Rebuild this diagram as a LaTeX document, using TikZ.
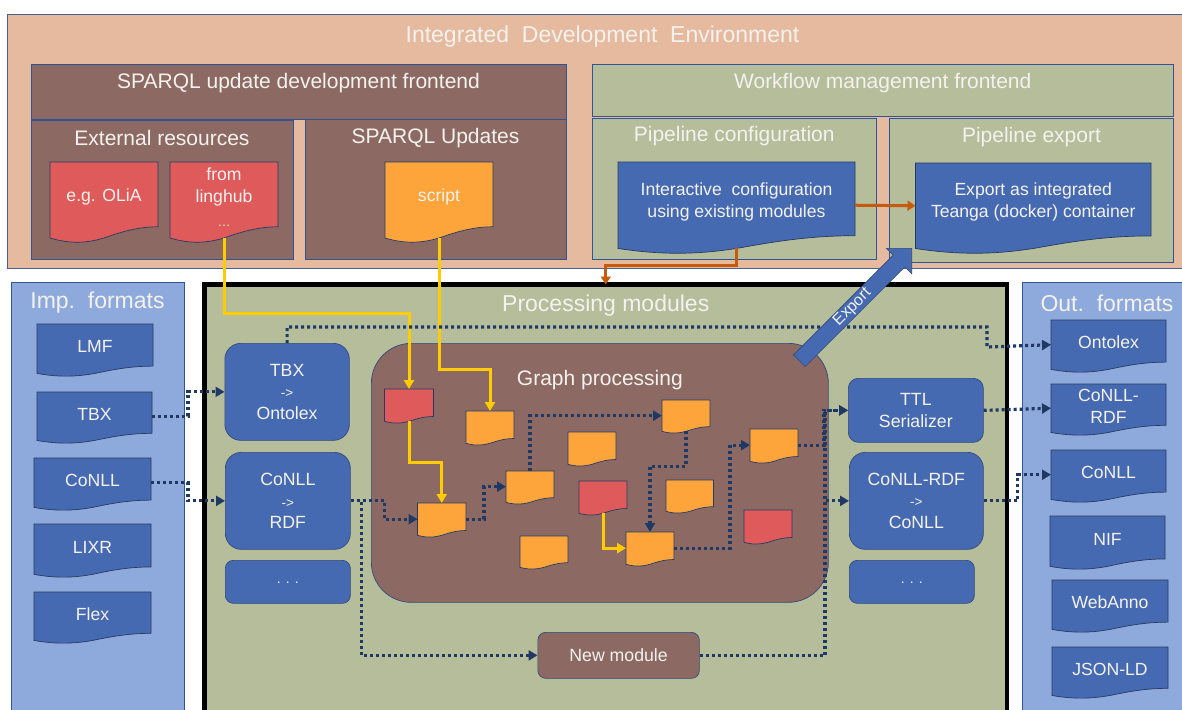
\documentclass[tikz,border=0pt]{standalone}
\usepackage{fontspec}
\setmainfont{Liberation Sans}
\usetikzlibrary{arrows.meta,shapes.arrows}
\definecolor{peach}{HTML}{E6BA9F}
\definecolor{olive}{HTML}{B6BD9B}
\definecolor{umber}{HTML}{8C6A63}
\definecolor{docblue}{HTML}{466AB1}
\definecolor{skyblue}{HTML}{8EA9DB}
\definecolor{docorange}{HTML}{FDA43B}
\definecolor{docred}{HTML}{DF5A5A}
\definecolor{edgeblue}{HTML}{2F5597}
\definecolor{navyline}{HTML}{1F3864}
\definecolor{goldline}{HTML}{FFCC00}
\definecolor{rustline}{HTML}{C55A11}
\definecolor{paper}{HTML}{F4F2EE}
\tikzset{
  panel/.style={anchor=north west,inner sep=0pt,outer sep=0pt,draw=edgeblue,line width=.8pt},
  headtext/.style={text=paper,anchor=center,inner sep=0pt,font=\fontsize{21}{25}\selectfont},
  doctext/.style={text=paper,anchor=center,inner sep=0pt,align=center,font=\fontsize{17.6}{22}\selectfont},
  docline/.style={draw=black!45!docblue,line width=.7pt},
  module/.style={anchor=north west,inner sep=0pt,draw=black!30!docblue,line width=.7pt,fill=docblue,
    text=paper,align=center,font=\fontsize{17.7}{21.5}\selectfont},
  yellowflow/.style={draw=goldline,line width=3pt,-{Triangle[length=9pt,width=10pt]}},
  rustflow/.style={draw=rustline,line width=3pt,-{Triangle[length=8pt,width=10pt]}},
  dotflow/.style={draw=navyline,line width=3.2pt,dash pattern=on 3pt off 3pt,-{Triangle[length=9pt,width=10pt]}},
}
\newcommand{\bigtitle}{\fontsize{23}{27}\selectfont}
\newcommand{\arrowsign}{{\fontsize{13.5}{15}\selectfont -{}>}}
\newcommand{\moredots}{\raisebox{-4pt}{\fontsize{14}{15}\selectfont . . .}}
% title sits #8 below the top edge of the panel
\newcommand{\panelbox}[8][fill=olive]{%
  \node[panel,#1,minimum width=#5pt,minimum height=#6pt,
    label={[headtext,yshift=-#8pt]north:#7}] (#2) at (#3,#4) {};
}
% wavy sheet: style, name, left, top, width, height, text
\newcommand{\wavedoc}[7][fill=docblue]{%
  \path[docline,#1] (#3,#4) -- ({#3+#5},#4) -- ({#3+#5},{#4+.81*#6})
    .. controls ({#3+.8*#5},{#4+.81*#6}) and ({#3+.65*#5},{#4+.88*#6}) .. ({#3+.5*#5},{#4+.95*#6})
    .. controls ({#3+.35*#5},{#4+1.01*#6}) and ({#3+.2*#5},{#4+1.03*#6}) .. (#3,{#4+.95*#6}) -- cycle;
  \node[inner sep=0pt,outer sep=0pt,minimum width=#5pt,minimum height=.95*#6pt,
    label={[doctext,yshift=.04*#6pt]center:#7}] (#2) at ({#3+.5*#5},{#4+.475*#6}) {};
}
\begin{document}
\begin{tikzpicture}[x=1pt,y=-1pt]
  \useasboundingbox (0,0) rectangle (1182,709);
  \clip (0,0) rectangle (1182,709);
  % integrated environment
  \panelbox[fill=peach,draw=edgeblue!70!gray]{ide}{7.5}{14}{1190}{254}{\bigtitle Integrated\ \ Development\ \ Environment}{23}
  \panelbox[fill=umber]{sparqlfront}{31}{64}{535}{55}{SPARQL update development frontend}{19.5}
  \panelbox[fill=umber]{external}{31}{120}{262}{139}{External resources}{18}
  \panelbox[fill=umber]{updates}{305}{119}{261}{140}{SPARQL Updates}{19}
  \panelbox{workflow}{592}{64}{581.5}{52}{Workflow management frontend}{19.5}
  \panelbox{pipeconf}{592}{118}{284.5}{141}{Pipeline configuration}{18}
  \panelbox{pipeexport}{889.5}{118}{284}{144}{Pipeline export}{19}
  \wavedoc[fill=docred]{olia}{50}{162}{108}{80}{e.g. OLiA}
  \wavedoc[fill=docred]{linghub}{170}{162}{108}{80}{from\\linghub\\[2pt]{\fontsize{13}{14}\selectfont\dots}}
  \wavedoc[fill=docorange]{script}{385}{162}{108}{80}{script}
  \wavedoc{interactive}{618}{162}{237}{91}{Interactive\ \ configuration\\using existing modules}
  \wavedoc{exportdoc}{915.5}{163}{235.5}{90}{Export as integrated\\Teanga (docker) container}
  % format columns
  \panelbox[fill=skyblue]{impformats}{11}{282}{173}{460}{\bigtitle Imp.\ \ formats}{21}
  \panelbox[fill=skyblue]{outformats}{1022}{282}{170}{460}{\bigtitle Out.\ \ formats}{21}
  \wavedoc{lmf}{37}{324}{116}{52}{LMF}
  \wavedoc{tbxdoc}{37}{392}{115}{51}{TBX}
  \wavedoc{conlldoc}{34}{458}{117}{52}{CoNLL}
  \wavedoc{lixr}{34}{524}{117}{53}{LIXR}
  \wavedoc{flex}{34}{592}{117}{51}{Flex}
  \wavedoc{ontolex}{1051}{320}{115}{52}{Ontolex}
  \wavedoc{rdfdoc}{1051}{384}{115}{51}{CoNLL-\\RDF}
  \wavedoc{conllout}{1051}{450}{115}{52}{CoNLL}
  \wavedoc{nif}{1050}{516}{115}{53}{NIF}
  \wavedoc{webanno}{1052}{580}{116}{52}{WebAnno}
  \wavedoc{jsonld}{1052}{647}{116}{51}{JSON-LD}
  % processing modules
  \panelbox[fill=olive,draw=black,line width=4.6pt]{proc}{204.5}{284.5}{802.5}{480}{\bigtitle Processing modules}{21.5}
  \node[module,rounded corners=16pt,minimum width=124.5pt,minimum height=97pt] (tbx) at (224.5,343) {TBX\\\arrowsign\\Ontolex};
  \node[module,rounded corners=16pt,minimum width=125pt,minimum height=97pt] (conll) at (225,452) {CoNLL\\\arrowsign\\RDF};
  \node[module,rounded corners=8pt,minimum width=125pt,minimum height=43pt] (moremods) at (225,560) {\moredots};
  \node[module,rounded corners=10pt,minimum width=135pt,minimum height=64pt] (ttl) at (848,378) {TTL\\Serializer};
  \node[module,rounded corners=16pt,minimum width=134pt,minimum height=97pt] (conllrdf) at (849,452) {CoNLL-RDF\\\arrowsign\\CoNLL};
  \node[module,rounded corners=8pt,minimum width=125pt,minimum height=43pt] (moreout) at (849,560) {\moredots};
  \node[module,rounded corners=8pt,fill=umber,minimum width=161.5pt,minimum height=46pt] (newmod) at (537.5,632) {New module};
  % graph processing
  \node[module,fill=umber,rounded corners=40pt,minimum width=457pt,minimum height=259pt,
    label={[headtext,yshift=-37pt]north:Graph processing}] (graph) at (371,343) {};
  \wavedoc[fill=docred]{reda}{384.5}{389}{49}{34}{}
  \wavedoc[fill=docred]{redb}{579}{481}{48}{34}{}
  \wavedoc[fill=docred]{redc}{744}{510}{48}{34}{}
  \wavedoc[fill=docorange]{stepa}{466}{411}{48}{34}{}
  \wavedoc[fill=docorange]{stepb}{662}{400}{48}{33}{}
  \wavedoc[fill=docorange]{stepc}{568}{432}{48}{34}{}
  \wavedoc[fill=docorange]{stepd}{506}{471}{48}{33}{}
  \wavedoc[fill=docorange]{stepe}{417.5}{503}{48.5}{34}{}
  \wavedoc[fill=docorange]{stepf}{666}{480}{47.5}{33}{}
  \wavedoc[fill=docorange]{stepg}{626}{532}{48}{34}{}
  \wavedoc[fill=docorange]{steph}{520}{536}{48}{33}{}
  \wavedoc[fill=docorange]{stepi}{750}{429}{48}{34}{}
  % yellow flows
  \draw[yellowflow] (linghub.south) -- ++(0,75) -| (reda.north);
  \draw[yellowflow] (script.south) -- ++(0,131) -| (stepa.north);
  \draw[yellowflow] (reda.south) -- ++(0,41) -| (stepe.north);
  \draw[yellowflow] (redb.south) |- (stepg.west);
  % dotted flows
  \draw[dotflow] (tbxdoc.east) -- ++(36,0) |- (tbx.west);
  \draw[dotflow] (conlldoc.east) -- ++(37,0) |- (conll.west);
  \draw[dotflow] (tbx.north) -- ++(0,-16) -| (987,347) -- (ontolex.west);
  \draw[dotflow] (conll.east) -- ++(34,0) |- (stepe.west);
  \draw[dotflow] (conll.east) -- ++(11,0) |- (newmod.west);
  \draw[dotflow] (stepe.east) -- ++(18,0) |- (stepd.west);
  \draw[dotflow] (stepd.north) |- (stepb.west);
  \draw[dotflow] (stepb.south) -- ++(0,35) -| (stepg.north);
  \draw[dotflow] (stepg.east) -- ++(56,0) |- (stepi.west);
  \draw[dotflow] (stepi.east) -| ([xshift=-24pt]ttl.west) -- (ttl.west);
  \draw[dotflow] (stepi.east) -| ([xshift=-24pt]conllrdf.west) -- (conllrdf.west);
  \draw[dotflow] (newmod.east) -| ([xshift=-23pt]ttl.west) -- (ttl.west);
  \draw[dotflow] (ttl.east) -- (rdfdoc.west);
  \draw[dotflow] (conllrdf.east) -- ++(34,0) |- (conllout.west);
  % orange flows and export
  \draw[rustflow] (interactive.east) -- (exportdoc.west);
  \draw[rustflow] (interactive.south) -- ++(0,17) -| (proc.north);
  \node[single arrow,draw=black!30!docblue,line width=.6pt,fill=docblue,rotate=45,anchor=tip,inner sep=0pt,
    minimum height=159pt,minimum width=36pt,single arrow head extend=8.8pt,single arrow tip angle=90,
    text=paper,font=\fontsize{16}{18}\selectfont] (exportarrow) at (912,248) {Export};
\end{tikzpicture}
\end{document}
